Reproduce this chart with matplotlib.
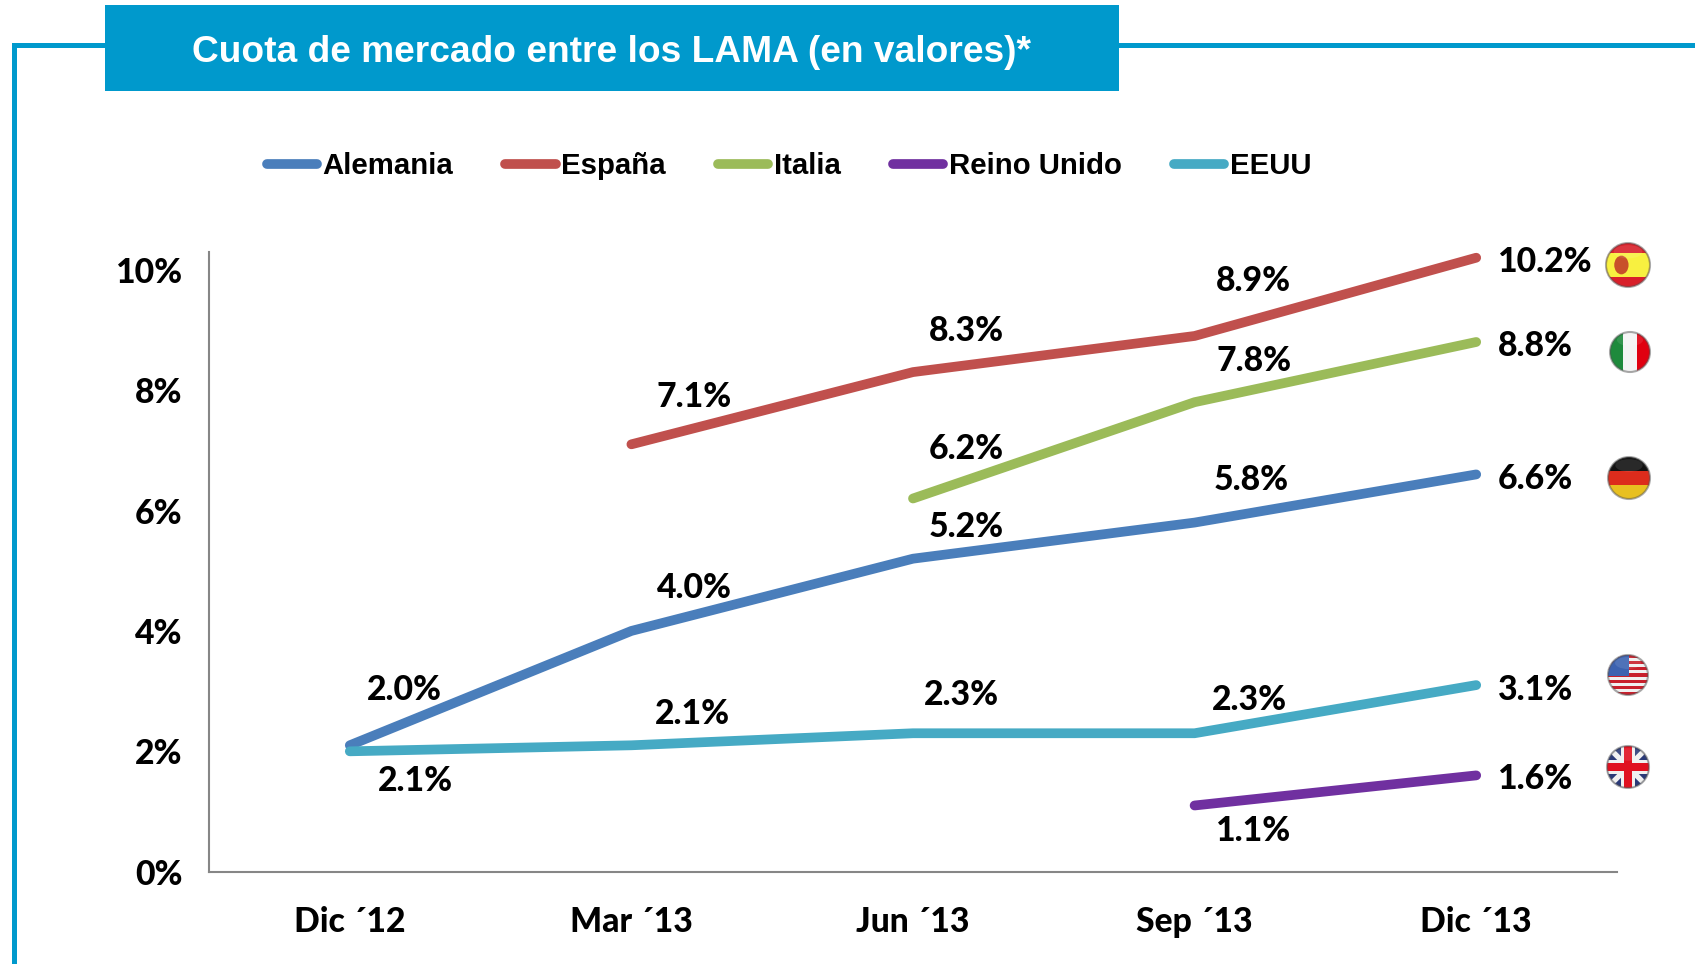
import matplotlib
matplotlib.use("Agg")
import matplotlib.pyplot as plt
from matplotlib.patches import Circle, Rectangle, Polygon, Ellipse

# datos
meses = ["Dic ´12", "Mar ´13", "Jun ´13", "Sep ´13", "Dic ´13"]
alemania = [2.1, 4.0, 5.2, 5.8, 6.6]
espana = [None, 7.1, 8.3, 8.9, 10.2]
italia = [None, None, 6.2, 7.8, 8.8]
reino_unido = [None, None, None, 1.1, 1.6]
eeuu = [2.0, 2.1, 2.3, 2.3, 3.1]

# the first two labels are crossed in the original
et_alemania = ["2.0%", "4.0%", "5.2%", "5.8%", "6.6%"]
et_espana = ["", "7.1%", "8.3%", "8.9%", "10.2%"]
et_italia = ["", "", "6.2%", "7.8%", "8.8%"]
et_reino_unido = ["", "", "", "1.1%", "1.6%"]
et_eeuu = ["2.1%", "2.1%", "2.3%", "2.3%", "3.1%"]

W, H = 1695, 964
AZUL = "#0099CC"
fuente_num = "Lato"
fuente_txt = "Liberation Sans"
peso_num = 900
talla_num = 24.3

fig = plt.figure(figsize=(W / 100, H / 100), dpi=100, facecolor="white")

# frame, banner and flags are drawn in pixel coordinates
fondo = fig.add_axes([0, 0, 1, 1], zorder=0)
fondo.set_xlim(0, W)
fondo.set_ylim(H, 0)
fondo.axis("off")

fondo.add_patch(Rectangle((12, 43), 5, H - 43, fc=AZUL, ec="none"))
fondo.add_patch(Rectangle((12, 43), W - 12, 5, fc=AZUL, ec="none"))
fondo.add_patch(Rectangle((105, 5), 1014, 86, fc=AZUL, ec="none"))
fondo.text(611, 53, "Cuota de mercado entre los LAMA (en valores)*", color="white",
           fontsize=26.75, fontweight="bold", family=fuente_txt, ha="center", va="center")


def bandera(cx, cy, r, dibujar):
    disco = Circle((cx, cy), r, transform=fondo.transData)
    for p in dibujar(cx, cy, r):
        p.set_clip_path(disco)
        fondo.add_patch(p)
    fondo.add_patch(Ellipse((cx, cy - r * 0.6), r * 1.3, r * 0.6, fc="white", ec="none", alpha=0.10))
    fondo.add_patch(Circle((cx, cy), r, fc="none", ec="#55555580", lw=1.5))


def banda(x, y, w, h, c):
    return Rectangle((x, y), w, h, fc=c, ec="none")


def esp(cx, cy, r):
    return [banda(cx - r, cy - r, 2 * r, 2 * r, "#D8202A"),
            banda(cx - r, cy - r * 0.55, 2 * r, r * 1.1, "#F8F040"),
            Ellipse((cx - r * 0.3, cy), r * 0.65, r * 0.85, fc="#C8502A", ec="none")]


def ita(cx, cy, r):
    return [banda(cx - r, cy - r, r * 0.7, 2 * r, "#1E8A3C"),
            banda(cx - r * 0.33, cy - r, r * 0.66, 2 * r, "#F4F4F4"),
            banda(cx + r * 0.33, cy - r, r * 0.7, 2 * r, "#E00010")]


def ale(cx, cy, r):
    return [banda(cx - r, cy - r, 2 * r, r * 0.7, "#111111"),
            banda(cx - r, cy - r * 0.33, 2 * r, r * 0.7, "#DC2C1C"),
            banda(cx - r, cy + r * 0.35, 2 * r, r * 0.7, "#E8C020")]


def usa(cx, cy, r):
    partes = [banda(cx - r, cy - r, 2 * r, 2 * r, "#F0F0F0")]
    for i in range(0, 7):
        partes.append(banda(cx - r, cy - r + i * 2 * r / 6.5, 2 * r, r / 6.5, "#C8202C"))
    partes.append(banda(cx - r, cy - r, r * 1.05, r * 1.05, "#3C62B0"))
    return partes


def gbr(cx, cy, r):
    a = r * 0.18
    return [banda(cx - r, cy - r, 2 * r, 2 * r, "#2A3A78"),
            Polygon([(cx - r, cy - r + a), (cx - r + a, cy - r), (cx + r, cy + r - a), (cx + r - a, cy + r)], fc="#F0F0F0", ec="none"),
            Polygon([(cx + r, cy - r + a), (cx + r - a, cy - r), (cx - r, cy + r - a), (cx - r + a, cy + r)], fc="#F0F0F0", ec="none"),
            banda(cx - r, cy - r * 0.32, 2 * r, r * 0.64, "#F0F0F0"),
            banda(cx - r * 0.32, cy - r, r * 0.64, 2 * r, "#F0F0F0"),
            banda(cx - r, cy - r * 0.18, 2 * r, r * 0.36, "#E01020"),
            banda(cx - r * 0.18, cy - r, r * 0.36, 2 * r, "#E01020")]


bandera(1628, 265, 22, esp)
bandera(1630, 352, 20, ita)
bandera(1629, 478, 21, ale)
bandera(1628, 675, 20, usa)
bandera(1628, 767, 21, gbr)

# grafico principal
ax = fig.add_axes([209 / W, (H - 871.7) / H, (1617 - 209) / W, (871.7 - 252) / H], zorder=1)
ax.patch.set_alpha(0)

series = [
    ("Alemania", alemania, et_alemania, "#4A7EBB", [(55, 55), (63, 43), (53, 32), (57, 43), (59, -5)]),
    ("España", espana, et_espana, "#C0504D", [None, (63, 47), (53, 41), (59, 55), (69, -4)]),
    ("Italia", italia, et_italia, "#9BBB59", [None, None, (53, 49), (59, 41), (59, -4)]),
    ("Reino Unido", reino_unido, et_reino_unido, "#7030A0", [None, None, None, (59, -26), (59, -4)]),
    ("EEUU", eeuu, et_eeuu, "#46AAC4", [(66, -30), (61, 31), (48, 38), (55, 33), (59, -5)]),
]

for nombre, valores, etiquetas, color, desvios in series:
    xs = [i for i, v in enumerate(valores) if v is not None]
    ys = [valores[i] for i in xs]
    ax.plot(xs, ys, color=color, lw=7, solid_capstyle="round", solid_joinstyle="round", label=nombre)
    for i in xs:
        # offsets are pixels, 100 dpi
        ax.annotate(etiquetas[i], (i, valores[i]), xytext=(desvios[i][0] * 0.72, desvios[i][1] * 0.72),
                    textcoords="offset points", ha="center", va="center",
                    fontsize=talla_num, fontweight=peso_num, family=fuente_num, color="black")

ax.set_xlim(-0.5, 4.5)
ax.set_ylim(0, 10.295)
ax.set_xticks(range(len(meses)))
ax.set_xticklabels(meses)
ax.set_yticks([0, 2, 4, 6, 8, 10])
ax.set_yticklabels(["0%", "2%", "4%", "6%", "8%", "10%"])
ax.tick_params(axis="both", length=0)
ax.tick_params(axis="x", pad=25)
ax.tick_params(axis="y", pad=19)
for t in ax.get_xticklabels() + ax.get_yticklabels():
    t.set_fontsize(talla_num)
    t.set_fontweight(peso_num)
    t.set_family(fuente_num)
for lado in ["top", "right"]:
    ax.spines[lado].set_visible(False)
for lado in ["left", "bottom"]:
    ax.spines[lado].set_color("#868686")
    ax.spines[lado].set_linewidth(1.5)

leg = ax.legend(loc="center left", bbox_to_anchor=(266.5 / W, (H - 166) / H), bbox_transform=fig.transFigure,
                ncol=5, frameon=False, borderpad=0, borderaxespad=0, handlelength=1.71, handletextpad=0.19,
                columnspacing=1.78, prop={"family": fuente_txt, "weight": "bold", "size": 21.15})

fig.savefig("out.png", dpi=100)
